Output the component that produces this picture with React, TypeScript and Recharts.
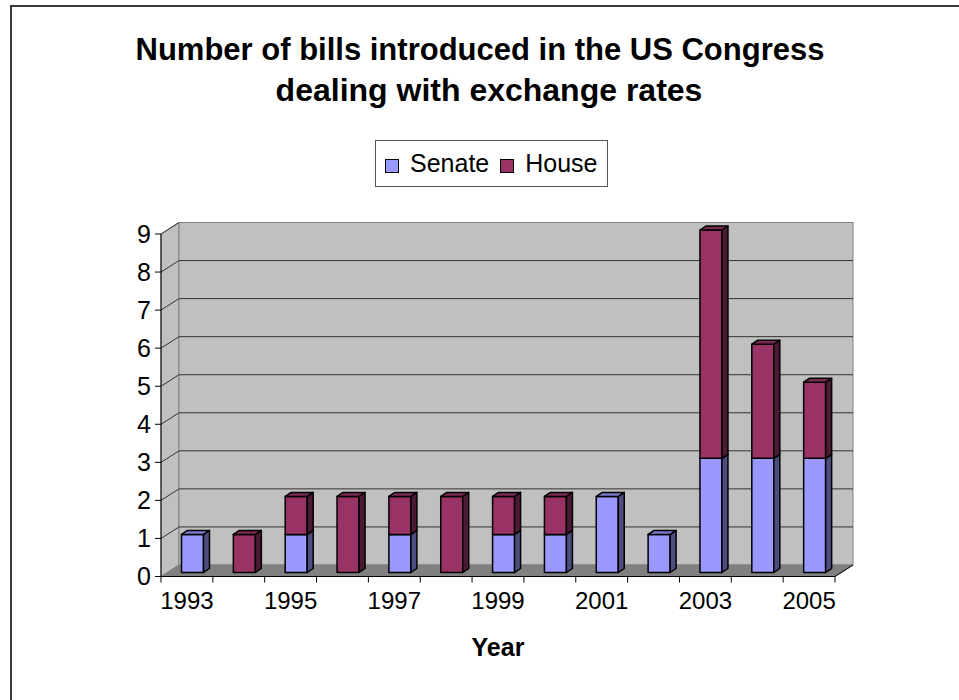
import { BarChart, Bar, XAxis, YAxis, ReferenceArea } from "recharts";

const years = ["1993", "1994", "1995", "1996", "1997", "1998", "1999", "2000", "2001", "2002", "2003", "2004", "2005"];
const senateBills = [1, 0, 1, 0, 1, 0, 1, 1, 2, 1, 3, 3, 3];
const houseBills = [0, 1, 1, 2, 1, 2, 1, 1, 0, 0, 6, 3, 2];
const yTicks = [0, 1, 2, 3, 4, 5, 6, 7, 8, 9];

const data = years.map((year, i) => ({ year, senate: senateBills[i], house: houseBills[i] }));

const FONT = '"Liberation Sans", Arial, sans-serif';

// plot area (front plane) and 3D depth
const PLOT_LEFT = 161;
const PLOT_RIGHT = 835;
const PLOT_TOP = 234;
const PLOT_BOTTOM = 576.5;
const BAND = (PLOT_RIGHT - PLOT_LEFT) / years.length;
const WALL_DX = 18;
const WALL_DY = 11.5;
const BAR_OX = 5.5;
const BAR_OY = -4;
const BAR_DX = 6;
const BAR_DY = 4;

const makeBox = (front: string, side: string, top: string) => (props: any) => {
  const { x, y, width, height } = props;
  if (!height || height <= 0) return <g />;
  const fx = x + BAR_OX;
  const fy = y + BAR_OY;
  const r = fx + width;
  const b = fy + height;
  return (
    <g stroke="#000" strokeWidth={1.5} strokeLinejoin="round">
      <rect x={fx} y={fy} width={width} height={height} fill={front} />
      <polygon
        points={`${r},${fy} ${r + BAR_DX},${fy - BAR_DY} ${r + BAR_DX},${b - BAR_DY} ${r},${b}`}
        fill={side}
      />
      <polygon
        points={`${fx},${fy} ${fx + BAR_DX},${fy - BAR_DY} ${r + BAR_DX},${fy - BAR_DY} ${r},${fy}`}
        fill={top}
      />
    </g>
  );
};

const senateBox = makeBox("#9999FF", "#4D4D80", "#7A7ACC");
const houseBox = makeBox("#993366", "#4D1A33", "#7A2952");

const Walls = (props: any) => {
  const { x, y, width, height } = props;
  const x1 = x + width;
  const yb = y + height;
  const lines = yTicks.filter((v) => v > 0 && v < 9).map((v) => yb - (v / 9) * height);
  return (
    <g>
      <polygon
        points={`${x},${yb} ${x},${y} ${x + WALL_DX},${y - WALL_DY} ${x + WALL_DX},${yb - WALL_DY}`}
        fill="#C0C0C0"
        stroke="#808080"
      />
      <rect x={x + WALL_DX} y={y - WALL_DY} width={width} height={height} fill="#C0C0C0" stroke="#808080" />
      {lines.map((ly, i) => (
        <g key={i} stroke="#333" strokeWidth={1}>
          <line x1={x} y1={ly} x2={x + WALL_DX} y2={ly - WALL_DY} />
          <line x1={x + WALL_DX} y1={ly - WALL_DY} x2={x1 + WALL_DX} y2={ly - WALL_DY} />
        </g>
      ))}
      <line x1={x} y1={y} x2={x + WALL_DX} y2={y - WALL_DY} stroke="#333" />
      <polygon
        points={`${x},${yb} ${x1},${yb} ${x1 + WALL_DX},${yb - WALL_DY} ${x + WALL_DX},${yb - WALL_DY}`}
        fill="#808080"
        stroke="#808080"
      />
      <line x1={x1} y1={yb} x2={x1 + WALL_DX} y2={yb - WALL_DY} stroke="#000" />
    </g>
  );
};

const YearTick = ({ x, y, index, payload }: any) => {
  return (
    <g>
      {index === 0 && <line x1={x - BAND / 2} y1={y} x2={x - BAND / 2} y2={y + 6} stroke="#000" />}
      <line x1={x + BAND / 2} y1={y} x2={x + BAND / 2} y2={y + 6} stroke="#000" />
      {index % 2 === 0 && (
        <text x={x} y={y + 32} textAnchor="middle" fontSize={24} fontFamily={FONT} fill="#000">
          {payload.value}
        </text>
      )}
    </g>
  );
};

const LegendItem = ({ color, label }: { color: string; label: string }) => (
  <div style={{ display: "flex", alignItems: "center", marginRight: 11 }}>
    <span style={{ width: 12, height: 12, background: color, border: "1.5px solid #000", marginRight: 11, marginTop: 4 }} />
    <span>{label}</span>
  </div>
);

const App = () => {
  return (
    <div style={{ position: "fixed", left: 0, top: 0, width: 959, height: 700, background: "#fff", fontFamily: FONT, overflow: "hidden" }}>
      <div style={{ position: "absolute", left: 10, top: 5, right: -10, bottom: -10, borderTop: "2px solid #3a3a3a", borderLeft: "2px solid #3a3a3a" }} />

      <div style={{ position: "absolute", left: 0, width: 960, top: 30, fontWeight: "bold", lineHeight: "40px", textAlign: "center", color: "#000" }}>
        <div style={{ fontSize: 31 }}>Number of bills introduced in the US Congress</div>
        <div style={{ fontSize: 32, paddingLeft: 18 }}>dealing with exchange rates</div>
      </div>

      <div
        style={{
          position: "absolute",
          left: 375,
          top: 140,
          width: 233,
          height: 47,
          boxSizing: "border-box",
          border: "1px solid #555",
          display: "flex",
          alignItems: "center",
          paddingLeft: 9,
          fontSize: 25,
          color: "#000",
        }}
      >
        <LegendItem color="#9999FF" label="Senate" />
        <LegendItem color="#993366" label="House" />
      </div>

      <BarChart
        width={959}
        height={700}
        data={data}
        margin={{ top: PLOT_TOP, right: 959 - PLOT_RIGHT, bottom: 700 - PLOT_BOTTOM - 1, left: PLOT_LEFT - 1 }}
        style={{ position: "absolute", left: 0, top: 0 }}
      >
        <ReferenceArea y1={0} y2={9} shape={<Walls />} zIndex={-200} />
        <XAxis
          dataKey="year"
          type="category"
          interval={0}
          height={1}
          tickSize={0}
          tickMargin={0}
          tickLine={false}
          axisLine={{ stroke: "#000" }}
          tick={<YearTick />}
        />
        <YAxis
          type="number"
          domain={[0, 9]}
          ticks={yTicks}
          interval={0}
          width={1}
          tickSize={6}
          tickMargin={4}
          axisLine={{ stroke: "#000" }}
          tickLine={{ stroke: "#000" }}
          tick={{ fill: "#000", fontSize: 25, fontFamily: FONT }}
        />
        <Bar dataKey="senate" stackId="a" barSize={22} shape={senateBox} isAnimationActive={false} />
        <Bar dataKey="house" stackId="a" barSize={22} shape={houseBox} isAnimationActive={false} />
      </BarChart>

      <div style={{ position: "absolute", left: 398, width: 200, top: 633, textAlign: "center", fontSize: 25, fontWeight: "bold", color: "#000" }}>
        Year
      </div>
    </div>
  );
};

export default App;
